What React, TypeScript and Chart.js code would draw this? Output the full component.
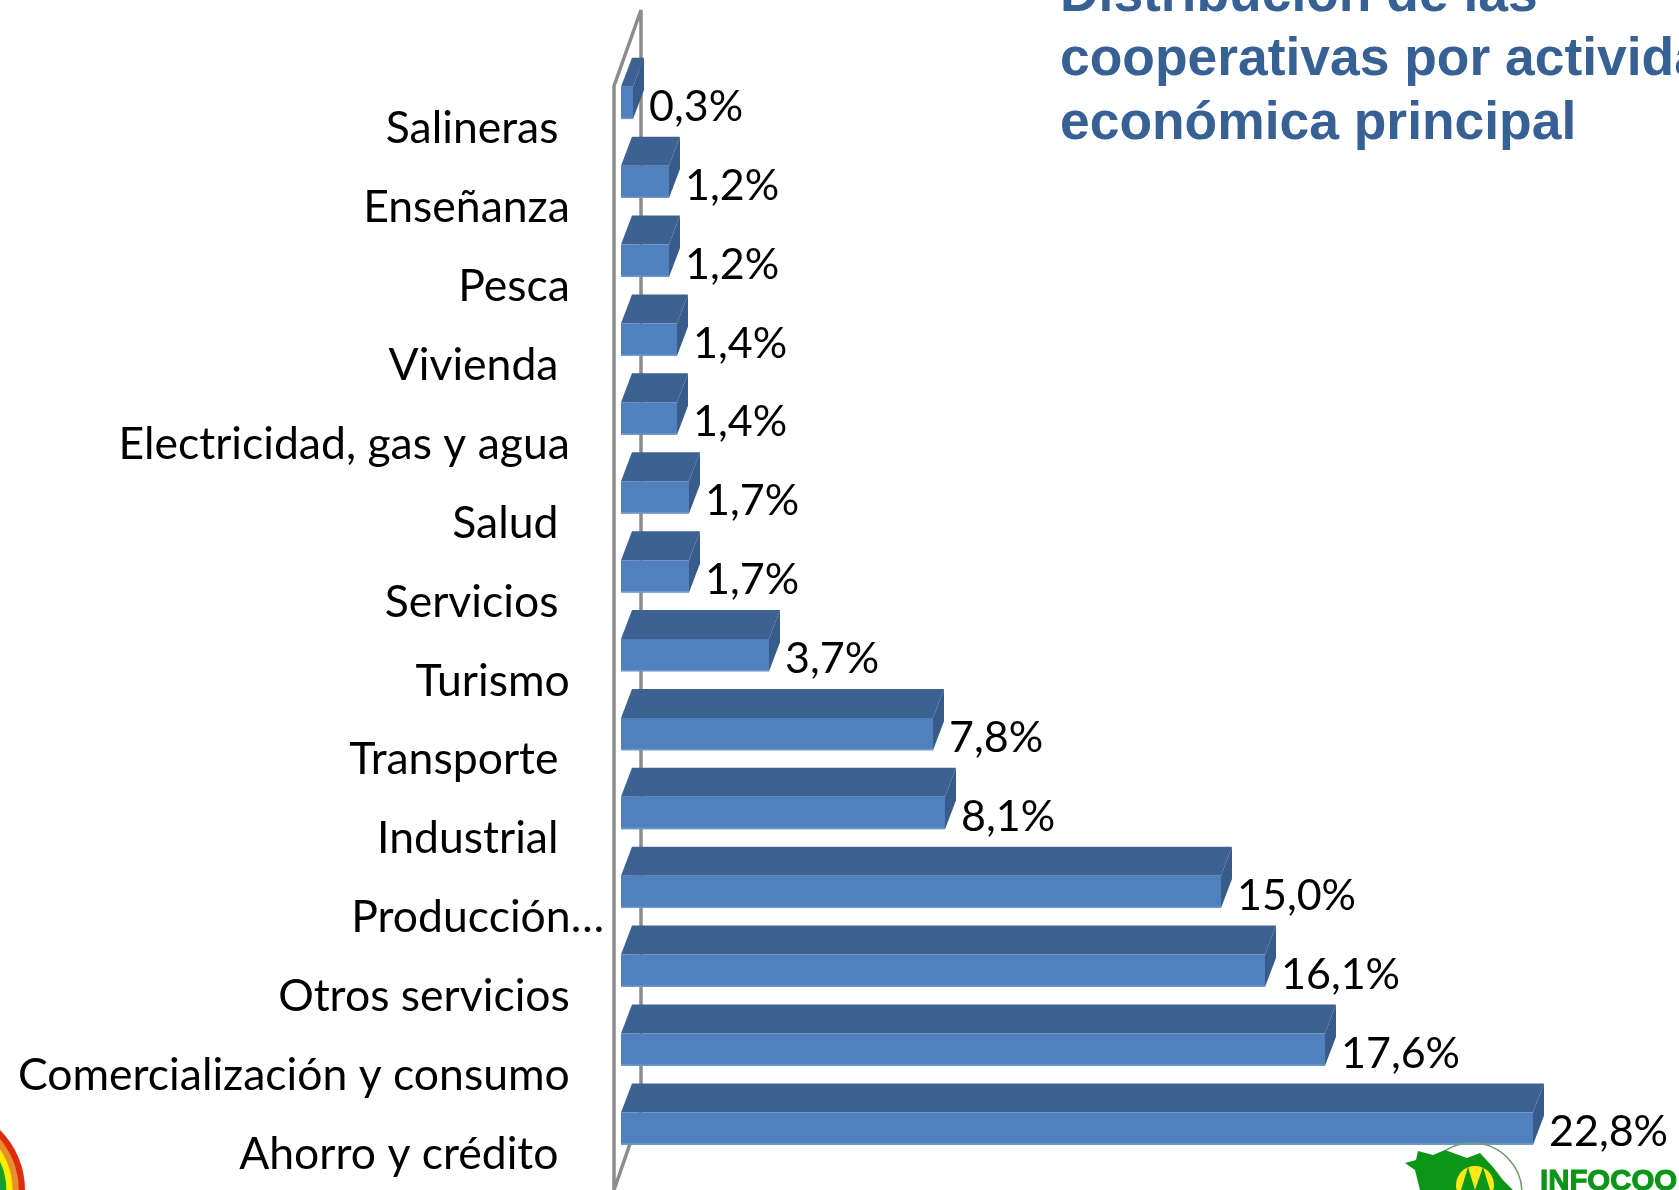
import React, { useEffect, useRef } from "react";
import { Chart, registerables } from "chart.js";

Chart.register(...registerables);

const categories = [
  "Salineras    ", "Enseñanza   ", "Pesca   ", "Vivienda    ", "Electricidad, gas y agua   ",
  "Salud    ", "Servicios    ", "Turismo   ", "Transporte    ", "Industrial    ",
  "Producción…", "Otros servicios   ", "Comercialización y consumo   ", "Ahorro y crédito    ",
];
const values = [0.3, 1.2, 1.2, 1.4, 1.4, 1.7, 1.7, 3.7, 7.8, 8.1, 15.0, 16.1, 17.6, 22.8];
const valueLabels = ["0,3%", "1,2%", "1,2%", "1,4%", "1,4%", "1,7%", "1,7%", "3,7%", "7,8%", "8,1%", "15,0%", "16,1%", "17,6%", "22,8%"];
const titleLines = ["Distribución de las", "cooperativas por actividad", "económica principal"];
const logoText = "INFOCOO";
const rainbow = ["#de2c0c", "#e8912a", "#ffed00", "#16a028", "#0090d0", "#ffffff"];

const FRONT = "#5080bd";
const TOP = "#3d6291";
const SIDE = "#375c8b";
const DEPTH_X = 11;
const DEPTH_Y = 29;

const scene = {
  id: "scene",
  beforeDatasetsDraw(chart: any) {
    const { ctx, chartArea } = chart;
    const x = chartArea.left;
    ctx.save();
    ctx.strokeStyle = "#8c8c8c";
    ctx.lineWidth = 3.5;
    ctx.lineJoin = "bevel";
    ctx.beginPath();
    ctx.moveTo(x - 7, 1190);
    ctx.lineTo(x - 7, 86);
    ctx.lineTo(x + 20, 10);
    ctx.lineTo(x + 20, 1112);
    ctx.lineTo(x - 7, 1190);
    ctx.stroke();
    chart.getDatasetMeta(0).data.forEach((bar: any) => {
      const h = bar.height;
      const t = bar.y - h / 2;
      const b = bar.y + h / 2;
      ctx.fillStyle = TOP;
      ctx.beginPath();
      ctx.moveTo(x, t);
      ctx.lineTo(x + DEPTH_X, t - DEPTH_Y);
      ctx.lineTo(bar.x + DEPTH_X, t - DEPTH_Y);
      ctx.lineTo(bar.x, t);
      ctx.closePath();
      ctx.fill();
      ctx.fillStyle = SIDE;
      ctx.beginPath();
      ctx.moveTo(bar.x, t);
      ctx.lineTo(bar.x + DEPTH_X, t - DEPTH_Y);
      ctx.lineTo(bar.x + DEPTH_X, b - DEPTH_Y);
      ctx.lineTo(bar.x, b);
      ctx.closePath();
      ctx.fill();
    });
    ctx.restore();
  },
  afterDatasetsDraw(chart: any) {
    const { ctx, chartArea } = chart;
    ctx.save();
    ctx.fillStyle = "#6f97c9";
    chart.getDatasetMeta(0).data.forEach((bar: any) => {
      ctx.fillRect(chartArea.left, bar.y + bar.height / 2 - 1.5, bar.x - chartArea.left, 1.5);
    });
    ctx.font = "43px Lato";
    ctx.fillStyle = "#000";
    ctx.textBaseline = "middle";
    chart.getDatasetMeta(0).data.forEach((bar: any, i: number) => {
      ctx.fillText(valueLabels[i], bar.x + 16, bar.y + 4);
    });
    ctx.restore();
  },
  afterDraw(chart: any) {
    const { ctx } = chart;
    ctx.save();
    ctx.font = "bold 53.4px 'Liberation Sans'";
    ctx.fillStyle = "#376194";
    titleLines.forEach((line, i) => ctx.fillText(line, 1060, 11 + i * 64));

    rainbow.forEach((c, i) => {
      ctx.fillStyle = c;
      ctx.beginPath();
      ctx.arc(-59.5, 1190, 84.5 - i * 6.2, 0, Math.PI * 2);
      ctx.fill();
    });

    ctx.strokeStyle = "#6fa06f";
    ctx.lineWidth = 1.5;
    ctx.beginPath();
    ctx.arc(1472, 1193, 50, Math.PI, 0);
    ctx.stroke();
    ctx.fillStyle = "#0b9618";
    ctx.beginPath();
    ctx.moveTo(1405, 1163);
    ctx.lineTo(1416, 1160);
    ctx.lineTo(1418, 1151);
    ctx.lineTo(1433, 1155);
    ctx.lineTo(1445, 1150);
    ctx.lineTo(1467, 1158);
    ctx.lineTo(1480, 1153);
    ctx.lineTo(1493, 1167);
    ctx.lineTo(1503, 1180);
    ctx.lineTo(1513, 1190);
    ctx.lineTo(1420, 1190);
    ctx.lineTo(1415, 1170);
    ctx.closePath();
    ctx.fill();
    ctx.fillStyle = "#ffe81a";
    ctx.beginPath();
    ctx.arc(1475, 1185, 19, 0, Math.PI * 2);
    ctx.fill();
    ctx.fillStyle = "#0b9618";
    ctx.beginPath();
    ctx.moveTo(1461, 1190);
    ctx.lineTo(1468, 1167);
    ctx.lineTo(1475, 1190);
    ctx.lineTo(1483, 1167);
    ctx.lineTo(1490, 1190);
    ctx.closePath();
    ctx.fill();
    ctx.font = "bold 29.4px 'Liberation Sans'";
    ctx.strokeStyle = "#0b9618";
    ctx.lineWidth = 1;
    ctx.fillText(logoText, 1540, 1190);
    ctx.strokeText(logoText, 1540, 1190);
    ctx.restore();
  },
};

export default function App() {
  const ref = useRef<HTMLCanvasElement>(null);
  useEffect(() => {
    document.body.style.margin = "0";
    const chart = new Chart(ref.current!, {
      type: "bar",
      data: {
        labels: categories,
        datasets: [{ data: values, backgroundColor: FRONT, borderWidth: 0, barPercentage: 1, categoryPercentage: 0.41 }],
      },
      options: {
        indexAxis: "y",
        responsive: false,
        animation: false,
        layout: { padding: { top: 63.5, bottom: 22, right: 58, left: 0 } },
        plugins: { legend: { display: false }, tooltip: { enabled: false } },
        scales: {
          x: { min: 0, max: 25, display: false },
          y: {
            grid: { display: false },
            border: { display: false },
            afterFit: (s: any) => { s.width = 621; s.paddingTop = 0; s.paddingBottom = 0; },
            ticks: {
              autoSkip: false,
              color: "#000",
              padding: 9,
              labelOffset: 26,
              font: { family: "Lato", size: 44.5 },
            },
          },
        },
      },
      plugins: [scene],
    });
    return () => chart.destroy();
  }, []);
  return <canvas ref={ref} width={1679} height={1190} style={{ display: "block" }} />;
}
